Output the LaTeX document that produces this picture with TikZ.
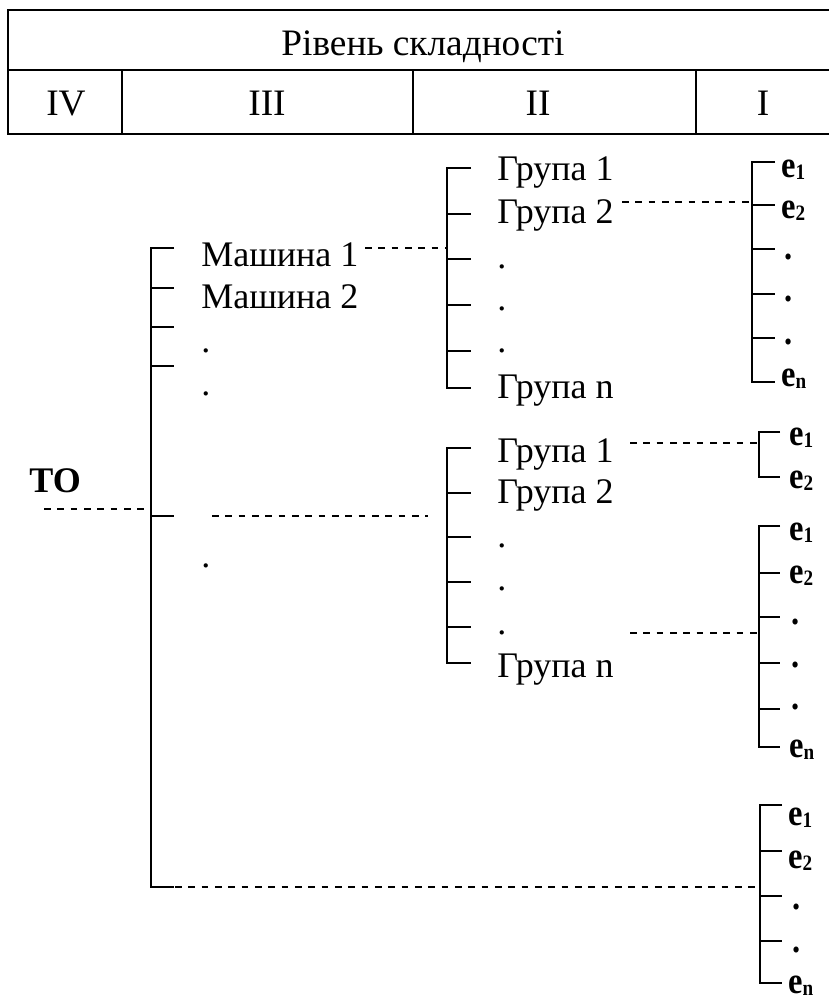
\documentclass[tikz,border=0pt]{standalone}
\usepackage{fontspec}
\setmainfont{Liberation Serif}
\newfontfamily\elemfont{Liberation Serif}[FakeStretch=0.87]
% bold element label with a lowered index
\newcommand\elem[1]{\textbf{e}\raisebox{-1.8pt}{\fontsize{16.5}{17}\selectfont\textbf{#1}}}
\begin{document}
\begin{tikzpicture}[x=0.75pt,y=-0.75pt,
  rule/.style={line width=1.5pt},
  link/.style={line width=0.9pt, dash pattern=on 4.9pt off 5.1pt},
  hdr/.style={anchor=base, inner sep=0pt, font=\fontsize{28}{30}\selectfont},
  lbl/.style={anchor=base west, inner sep=0pt, font=\fontsize{27}{30}\selectfont},
  elbl/.style={anchor=base west, inner sep=0pt, font=\elemfont\fontsize{28}{30}\selectfont\bfseries},
]
\useasboundingbox (0,0) rectangle (829,1001);

% ---- header table ----
\draw[rule] (829,10) -- (8,10) -- (8,134) -- (829,134);
\draw[rule] (8,70) -- (829,70);
\foreach \x in {122,413,696} \draw[rule] (\x,70) -- (\x,134);
\node[hdr] (title) at (423,55) {Рівень складності};
\node[hdr] (lv4) at (66,115) {IV};
\node[hdr] (lv3) at (267,115) {III};
\node[hdr] (lv2) at (538,115) {II};
\node[hdr] (lv1) at (763,115) {I};

% ---- level IV: the object ----
\node[lbl, font=\fontsize{27}{30}\selectfont\bfseries] (to) at (29,492) {ТО};
\draw[rule] (174,248) -- (151,248) -- (151,887) -- (174,887);
\foreach \y in {288,327,366,516} \draw[rule] (151,\y) -- (174,\y);
\coordinate (toIn) at (151,509);
\coordinate (toOut) at (44,509);
\draw[link] (toOut) -- (toIn);

% ---- level III: machines ----
\node[lbl] (m1) at (201,266) {Машина 1};
\node[lbl] (m2) at (201,308) {Машина 2};
\node[lbl] (md1) at (201,352) {.};
\node[lbl] (md2) at (201,395) {.};
\node[lbl] (md3) at (201,567) {.};

% ---- level II: groups of machine 1 ----
\draw[rule] (471,168) -- (447,168) -- (447,388) -- (471,388);
\foreach \y in {214,259,305,351} \draw[rule] (447,\y) -- (471,\y);
\node[lbl] (ga1) at (497,180) {Група 1};
\node[lbl] (ga2) at (497,223) {Група 2};
\node[lbl] (gad1) at (497,268) {.};
\node[lbl] (gad2) at (497,310) {.};
\node[lbl] (gad3) at (497,352) {.};
\node[lbl] (gan) at (497,398) {Група n};
\coordinate (gaIn) at (447,248);
\coordinate (m1Out) at (365,248);
\draw[link] (m1Out) -- (gaIn);

% ---- level II: groups of another machine ----
\draw[rule] (471,448) -- (447,448) -- (447,663) -- (471,663);
\foreach \y in {493,537,582,627} \draw[rule] (447,\y) -- (471,\y);
\node[lbl] (gb1) at (497,462) {Група 1};
\node[lbl] (gb2) at (497,503) {Група 2};
\node[lbl] (gbd1) at (497,547) {.};
\node[lbl] (gbd2) at (497,590) {.};
\node[lbl] (gbd3) at (497,634) {.};
\node[lbl] (gbn) at (497,677) {Група n};
\coordinate (toMidA) at (212,516);
\coordinate (toMidB) at (428,516);
\draw[link] (toMidA) -- (toMidB);

% ---- level I: elements of group 2 ----
\draw[rule] (775,162) -- (752,162) -- (752,382) -- (775,382);
\foreach \y in {205,249,294,338} \draw[rule] (752,\y) -- (775,\y);
\node[elbl] (ea1) at (781,177) {\elem{1}};
\node[elbl] (ea2) at (781,218) {\elem{2}};
\node[elbl] (ead1) at (784,259) {.};
\node[elbl] (ead2) at (784,301) {.};
\node[elbl] (ead3) at (784,344) {.};
\node[elbl] (ean) at (781,386) {\elem{n}};
\coordinate (ga2Out) at (622,202);
\coordinate (eaIn) at (752,202);
\draw[link] (ga2Out) -- (eaIn);

% ---- level I: elements of group 1 ----
\draw[rule] (780,432) -- (759,432) -- (759,477) -- (780,477);
\node[elbl] (eb1) at (789,445) {\elem{1}};
\node[elbl] (eb2) at (789,488) {\elem{2}};
\coordinate (gb1Out) at (630,443);
\coordinate (ebIn) at (759,443);
\draw[link] (gb1Out) -- (ebIn);

% ---- level I: elements of a further group ----
\draw[rule] (780,526) -- (759,526) -- (759,747) -- (780,747);
\foreach \y in {573,617,663,709} \draw[rule] (759,\y) -- (780,\y);
\node[elbl] (ec1) at (789,540) {\elem{1}};
\node[elbl] (ec2) at (789,583) {\elem{2}};
\node[elbl] (ecd1) at (791,624) {.};
\node[elbl] (ecd2) at (791,667) {.};
\node[elbl] (ecd3) at (791,709) {.};
\node[elbl] (ecn) at (789,757) {\elem{n}};
\coordinate (gbdOut) at (630,633);
\coordinate (ecIn) at (759,633);
\draw[link] (gbdOut) -- (ecIn);

% ---- level I: elements linked straight to the object ----
\draw[rule] (782,805) -- (760,805) -- (760,983) -- (782,983);
\foreach \y in {851,896,941} \draw[rule] (760,\y) -- (782,\y);
\node[elbl] (ed1) at (788,825) {\elem{1}};
\node[elbl] (ed2) at (788,868) {\elem{2}};
\node[elbl] (edd1) at (792,909) {.};
\node[elbl] (edd2) at (792,952) {.};
\node[elbl] (edn) at (788,993) {\elem{n}};
\coordinate (toLow) at (175,887);
\coordinate (edIn) at (760,887);
\draw[link] (toLow) -- (edIn);
\end{tikzpicture}
\end{document}
